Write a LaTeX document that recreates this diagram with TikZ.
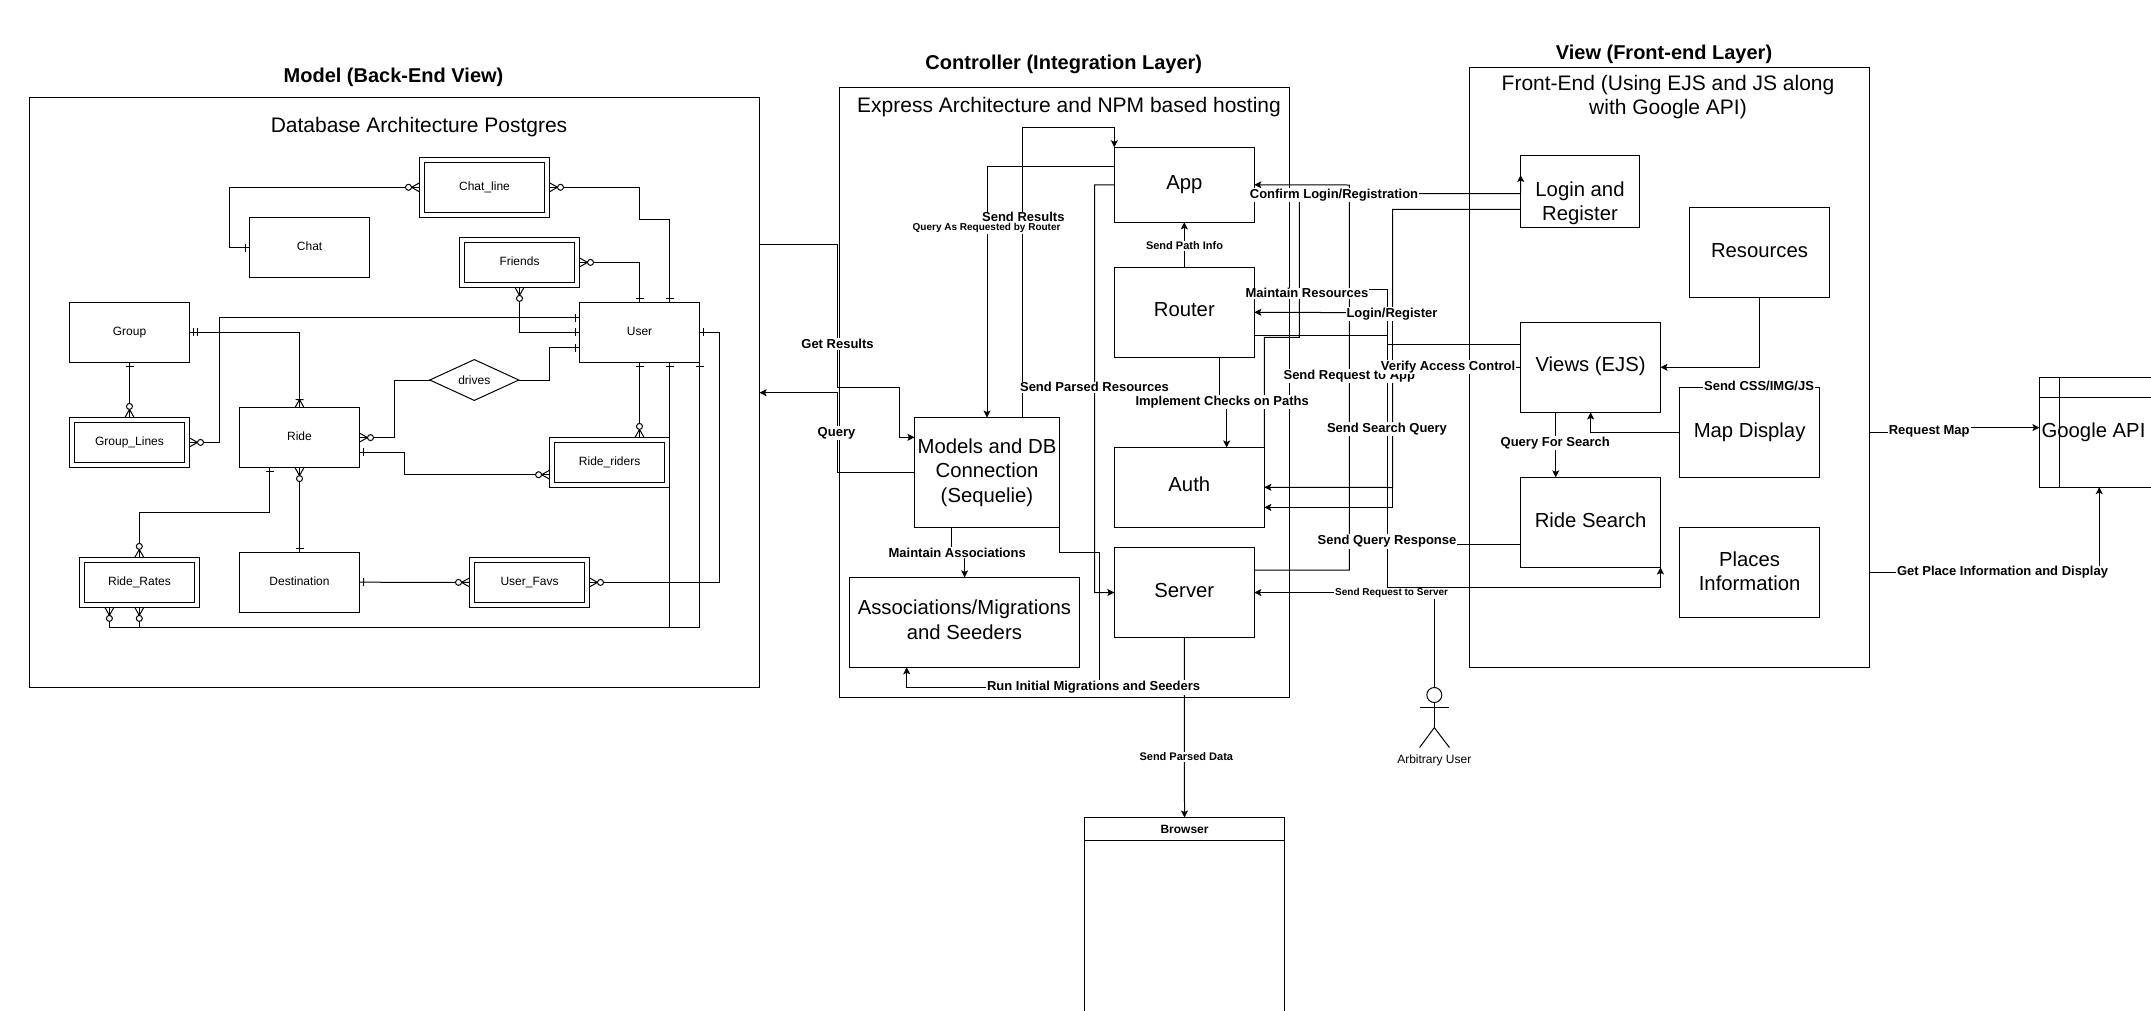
\documentclass[tikz,border=0pt]{standalone}
\usepackage{fontspec}
\setmainfont{Liberation Sans}
\usetikzlibrary{arrows.meta, positioning, shapes.geometric}

% end marks of the entity relations
\newcommand{\ertick}[1]{\pgfpathmoveto{\pgfqpoint{#1}{-4pt}}\pgfpathlineto{\pgfqpoint{#1}{4pt}}}
\newcommand{\ercrow}{\pgfpathmoveto{\pgfqpoint{0pt}{-4.5pt}}\pgfpathlineto{\pgfqpoint{-8pt}{0pt}}\pgfpathlineto{\pgfqpoint{0pt}{4.5pt}}}
\newcommand{\erdot}{\pgfsetfillcolor{white}\pgfpathcircle{\pgfqpoint{-11pt}{0pt}}{3pt}\pgfusepathqfillstroke}
\newcommand{\ertip}[2]{\pgfdeclarearrow{name=#1, setup code={\pgfarrowssettipend{0pt}\pgfarrowssetlineend{0pt}\pgfarrowssetbackend{-14pt}\pgfarrowssetvisualbackend{-14pt}}, drawing code={\pgfsetdash{}{0pt}#2}}}
\ertip{ERone}{\ertick{-4pt}\pgfusepathqstroke}
\ertip{ERtwo}{\ertick{-3.5pt}\ertick{-7.5pt}\pgfusepathqstroke}
\ertip{ERom}{\ercrow\ertick{-8pt}\pgfusepathqstroke}
\ertip{ERzm}{\ercrow\pgfusepathqstroke\erdot}

\newcommand{\bigfont}{\fontsize{20.3}{24.5}\selectfont}

\begin{document}
\begin{tikzpicture}[
    x=1pt, y=-1pt, line width=1pt,
    frame/.style={draw, outer sep=0pt, inner sep=0pt},
    block/.style={frame, align=center, font=\bigfont},
    oneline/.style={block, text height=16pt, text depth=6.7pt},
    entity/.style={frame, minimum width=120pt, minimum height=60pt, font=\fontsize{12}{14}\selectfont, text height=10pt, text depth=3.4pt},
    weak/.style={entity, double, double distance=4pt, outer sep=2.5pt, minimum width=115pt, minimum height=45pt},
    title/.style={font=\bfseries\fontsize{20}{24}\selectfont, inner sep=0pt, yshift=-2pt},
    caption/.style={align=center, font=\fontsize{21}{24.5}\selectfont, inner sep=0pt, yshift=-2pt},
    boxtxt/.style={caption, font=\bigfont},
    edgelbl/.style={fill=white, inner sep=1pt, yshift=-1pt, font=\bfseries\fontsize{13}{15}\selectfont},
    smalllbl/.style={edgelbl, font=\bfseries\fontsize{11}{13}\selectfont},
    tinylbl/.style={edgelbl, font=\bfseries\fontsize{10}{12}\selectfont},
    arrow/.style={-{Stealth[length=7pt, width=7pt, inset=1.5pt]}}
]
    \path[use as bounding box, clip] (0,0) rectangle (2151,1010);

    % frames and their titles
    \node[frame, minimum width=730.3pt, minimum height=589.8pt] (dbframe)   at (394.4,392.4) {};
    \node[frame, minimum width=449.8pt, minimum height=610pt]   (ctrlframe) at (1064.1,392.3) {};
    \node[frame, minimum width=399.9pt, minimum height=599.9pt] (viewframe) at (1669.3,367.5) {};
    \node[title] (dbtitle)   at (393.5,75) {Model (Back-End View)};
    \node[title] (ctrltitle) at (1063.8,62) {Controller (Integration Layer)};
    \node[title] (viewtitle) at (1664,52) {View (Front-end Layer)};
    \node[caption] (dbcap)   at (419,125) {Database Architecture Postgres};
    \node[caption] (ctrlcap) at (1069,105.3) {Express Architecture and NPM based hosting};
    \node[caption] (viewcap) at (1668,95) {Front-End (Using EJS and JS along\\with Google API)};

    % database entities
    \node[weak, minimum width=125pt, minimum height=55pt] (chatline) at (484.5,187.3) {Chat\_line};
    \node[entity] (chat)    at (309.6,247.6) {Chat};
    \node[weak]   (friends) at (519.5,262.4) {Friends};
    \node[entity] (user)    at (639.5,332.4) {User};
    \node[entity] (group)   at (129.5,332.4) {Group};
    \node[weak]   (grouplines) at (129.5,442.4) {Group\_Lines};
    \node[entity] (ride)    at (299.5,437.6) {Ride};
    \node[weak]   (riders)  at (609.6,462.4) {Ride\_riders};
    \node[weak]   (rates)   at (139.5,582.4) {Ride\_Rates};
    \node[entity] (dest)    at (299.5,582.2) {Destination};
    \node[weak]   (favs)    at (529.5,582.4) {User\_Favs};
    \node[frame, diamond, minimum width=89pt, minimum height=35pt, font=\fontsize{12}{14}\selectfont] (drives) at (474.3,380) {drives};

    \draw[{ERzm}-{ERone}] (chatline.west) -| (229.3,247.6) -- (chat.west);
    \draw[{ERzm}-{ERone}] (chatline.east) -| (639.7,219.6) -| (669.6,0 |- user.north);
    \draw[{ERzm}-{ERone}] (friends.east) -| (639.7,0 |- user.north);
    \draw[{ERzm}-{ERone}] (friends.south) |- (user.west);
    \draw[{ERtwo}-{ERom}] (group.east) -| (ride.north);
    \draw[{ERone}-{ERzm}] (group.south) -- (grouplines.north);
    \draw[{ERzm}-{ERone}] (grouplines.east) -| (219.4,317.6) -- (user.west |- 0,317.6);
    \draw[{ERzm}-] (ride.east) -| (394.6,380) -- (drives.west);
    \draw[-{ERone}] (drives.east) -| (549.7,347.8) -- (user.west |- 0,347.8);
    \draw[{ERone}-{ERzm}] (ride.east |- 0,452.2) -| (404.4,474.7) -- (riders.west |- 0,474.7);
    \draw[{ERone}-{ERzm}] (639.5,0 |- user.south) -- (639.5,0 |- riders.north);
    \draw[{ERone}-{ERzm}] (669.6,0 |- user.south) |- (139.3,627.3) -- (139.3,0 |- rates.south);
    \draw[{ERone}-{ERzm}] (user.south east) |- (109.4,627.3) -- (109.4,0 |- rates.south);
    \draw[{ERone}-{ERzm}] (user.east) -| (719.3,582.4) -- (favs.east);
    \draw[{ERone}-{ERzm}] (dest.east) -- (favs.west);
    \draw[{ERzm}-{ERone}] (ride.south) -- (dest.north);
    \draw[{ERone}-{ERzm}] (269.6,0 |- ride.south) |- (139.3,512.2) -- (139.3,0 |- rates.north);

    % controller blocks
    \node[oneline, minimum width=140pt, minimum height=75pt]    (app)    at (1184.3,184.8) {App};
    \node[oneline, minimum width=140pt, minimum height=90pt]    (router) at (1184.3,312.3) {Router};
    \node[oneline, minimum width=150.1pt, minimum height=79.7pt] (auth)  at (1189.3,487.3) {Auth};
    \node[oneline, minimum width=140pt, minimum height=89.9pt]  (server) at (1184.3,592.5) {Server};
    \node[block, minimum width=145.1pt, minimum height=109.7pt] (models) at (987,472.4) {Models and DB\\Connection\\(Sequelie)};
    \node[frame, minimum width=230.1pt, minimum height=89.9pt] (assoc) at (964.4,622.3) {};
    \node[boxtxt] (assoctxt) at (964.4,617.6) {Associations/Migrations\\and Seeders};
    \node[frame, minimum width=200.2pt, minimum height=280pt] (browser) at (1184.5,957.5) {};
    \draw (browser.west |- 0,840.5) -- (browser.east |- 0,840.5);
    \node[font=\bfseries\fontsize{12}{14}\selectfont, inner sep=0pt] (browsertxt) at (1184.5,829) {Browser};

    % front-end blocks
    \node[frame] (login) at (1580.1,191.5) [minimum width=118.8pt, minimum height=72.3pt] {};
    \node[boxtxt] (logintxt) at (1580,201) {Login and\\Register};
    \node[oneline, minimum width=140.3pt, minimum height=89.7pt] (resources) at (1759.5,252.4) {Resources};
    \node[oneline, minimum width=139.8pt, minimum height=90.2pt] (views)  at (1590.6,367.3) {Views (EJS)};
    \node[oneline, minimum width=139.8pt, minimum height=89.9pt] (mapdisp) at (1749.6,432.4) {Map Display};
    \node[oneline, minimum width=139.8pt, minimum height=90.1pt] (search) at (1590.6,522.4) {Ride Search};
    \node[frame, minimum width=139.8pt, minimum height=89.7pt] (places) at (1749.6,572.4) {};
    \node[boxtxt] (placestxt) at (1749.6,569) {Places\\Information};
    \node[frame, minimum width=160pt, minimum height=109.8pt] (google) at (2119.4,432.2) {};
    \draw (google.west |- 0,397.3) -- (google.east |- 0,397.3);
    \draw (2059.5,0 |- google.north) -- (2059.5,0 |- google.south);
    \node[boxtxt] (googletxt) at (2093.5,430) {Google API};

    % arbitrary user
    \node[draw, circle, minimum size=15pt, inner sep=0pt, outer sep=0pt] (actor) at (1434.3,695) {};
    \coordinate (hip) at (1434.3,727.6);
    \draw (actor.south) -- (hip);
    \draw (1419.6,707.4) -- (1449.4,707.4);
    \draw (1419.6,747.5) -- (hip) -- (1449.4,747.5);
    \node[font=\fontsize{12}{14}\selectfont, inner sep=0pt] (actortxt) at (1434.3,760) {Arbitrary User};

    % model to controller
    \draw[arrow] (dbframe.east |- 0,244.7) -| (837.4,387.3) -| (899.4,437.3) -- (models.west |- 0,437.3);
    \draw[arrow] (models.west) -| (837,392.7) -- (dbframe.east |- 0,392.7);

    % inside the controller
    \draw[arrow] (app.west |- 0,166.3) -| (987,0 |- models.north);
    \draw[arrow] (1022.9,0 |- models.north) |- (1114.3,127.3) -- (app.north west);
    \draw[arrow] (app.west) -| (1094.5,592.6) -- (server.west);
    \draw[arrow] (router.north) -- (app.south);
    \draw[arrow] (1219.4,0 |- router.south) |- (1226.7,402) -- (1226.7,0 |- auth.north);
    \draw[arrow] (951.3,0 |- models.south) |- (964.6,552) -- (964.6,0 |- assoc.north);
    \draw[arrow] (models.south east) |- (1099.6,552.5) |- (906.7,687) -- (906.7,0 |- assoc.south);
    \draw[arrow] (server.south) -- (browser.north);

    % controller and front-end
    \draw[arrow] (server.east |- 0,570) -| (1349.3,185) -- (app.east);
    \draw[arrow] (auth.north east) |- (1299.3,337.3) |- (1520.7,193.7) -- (login.west |- 0,175);
    \draw[arrow] (login.west |- 0,209.3) -| (1392.5,312.7) -- (router.east);
    \draw (1392.5,312.7) |- (1392.5,507.4);
    \draw[arrow] (1392.5,507.4) -- (auth.east |- 0,507.4);
    \draw[arrow] (views.west) -| (1392.5,487.5) -- (auth.east);
    \draw[arrow] (router.east |- 0,289.3) -| (1387.4,587.5) -| (search.south east);
    \draw (router.east |- 0,335) -| (1387.4,344.7) -- (views.west |- 0,344.7);
    \draw (search.west |- 0,544.7) -| (1387.4,344.7);
    \draw[arrow] (actor.north) |- (server.east);

    % inside the front-end
    \draw[arrow] (1555.7,0 |- views.south) -- (1555.7,0 |- search.north);
    \draw[arrow] (mapdisp.west) -| (views.south);
    \draw[arrow] (resources.south) |- (views.east);

    % out to the map service
    \draw[arrow] (viewframe.east |- 0,432.4) -| (1930,427.6) -- (google.west |- 0,427.6);
    \draw[arrow] (viewframe.east |- 0,572.4) -| (2099.2,0 |- google.south);

    % labels over the lines
    \node[edgelbl] (lblresults) at (837.5,343) {Get Results};
    \node[edgelbl] (lblquery)   at (836.5,432.3) {Query};
    \node[edgelbl] (lblsend)    at (1023.3,216.3) {Send Results};
    \node[tinylbl] (lblrouter)  at (986.6,227.3) {Query As Requested by Router};
    \node[edgelbl] (lblparsed)  at (1094.5,386.3) {Send Parsed Resources};
    \node[smalllbl] (lblpath)   at (1184.5,245) {Send Path Info};
    \node[edgelbl] (lblchecks)  at (1222.2,401.3) {Implement Checks on Paths};
    \node[edgelbl] (lblassoc)   at (957.2,551.4) {Maintain Associations};
    \node[edgelbl] (lblseed)    at (1093.6,686.4) {Run Initial Migrations and Seeders};
    \node[smalllbl] (lbldata)   at (1186.3,756) {Send Parsed Data};
    \node[edgelbl] (lblconfirm) at (1334,194.3) {Confirm Login/Registration};
    \node[edgelbl] (lblmaintain) at (1307,292.3) {Maintain Resources};
    \node[edgelbl] (lbllogin)   at (1392,313.3) {Login/Register};
    \node[edgelbl] (lblapp)     at (1349.3,375.3) {Send Request to App};
    \node[edgelbl] (lblverify)  at (1448,366) {Verify Access Control};
    \node[edgelbl] (lblsearch)  at (1387,428.3) {Send Search Query};
    \node[edgelbl] (lblresponse) at (1387,540.5) {Send Query Response};
    \node[tinylbl] (lblserver)  at (1391.6,592.2) {Send Request to Server};
    \node[edgelbl] (lblcss)     at (1759,385) {Send CSS/IMG/JS};
    \node[edgelbl] (lblfor)     at (1555.2,442.2) {Query For Search};
    \node[edgelbl] (lblmap)     at (1929.2,430.4) {Request Map};
    \node[edgelbl] (lblplace)   at (2002.5,571.6) {Get Place Information and Display};
\end{tikzpicture}
\end{document}
